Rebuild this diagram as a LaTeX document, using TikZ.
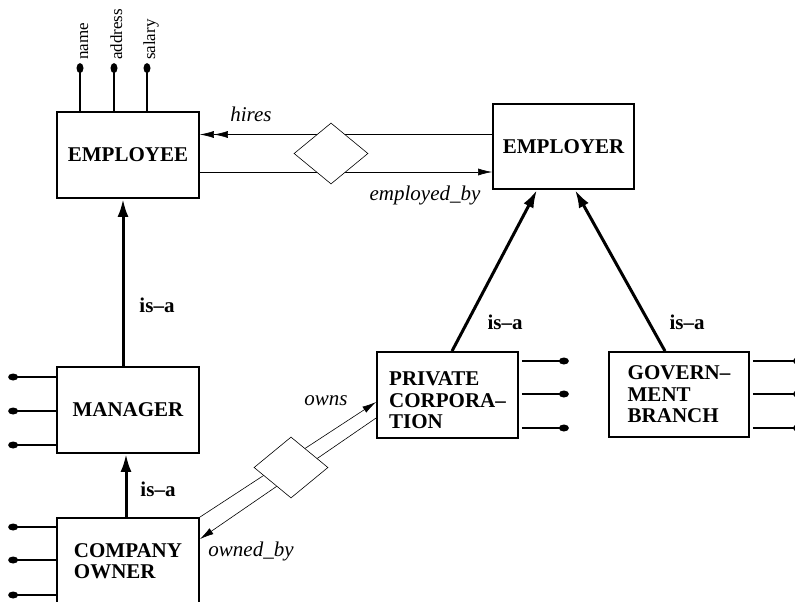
\documentclass[tikz,border=0pt]{standalone}
\usepackage{fontspec}
\setmainfont{Liberation Serif}
\usetikzlibrary{arrows.meta,shapes.geometric}
\begin{document}
\begin{tikzpicture}[x=1pt,y=-1pt,
 ent/.style={draw,line width=1.8pt,minimum width=142pt,minimum height=86pt,inner sep=0pt,align=left,font=\fontsize{21}{21.5}\selectfont\bfseries},
 rel/.style={diamond,draw,line width=0.6pt,fill=white,minimum width=74pt,minimum height=61pt,inner sep=0pt},
 conn/.style={line width=0.6pt,-{Latex[length=14pt,width=7pt]}},
 dconn/.style={line width=0.6pt,-{Latex[length=14pt,width=7pt]Latex[length=14pt,width=7pt]}},
 isa/.style={line width=3pt,-{Latex[length=18pt,width=11pt]}},
 lbl/.style={font=\fontsize{21}{24}\selectfont\itshape,inner sep=0pt},
 isalbl/.style={font=\fontsize{21}{24}\selectfont\bfseries,inner sep=0pt},
 stub/.style={line width=1.8pt},
 vdot/.style={ellipse,fill,minimum width=7pt,minimum height=10pt,inner sep=0pt},
 hdot/.style={ellipse,fill,minimum width=10pt,minimum height=7pt,inner sep=0pt},
 attr/.style={font=\fontsize{17}{20}\selectfont,rotate=90,anchor=base west,inner sep=0pt}]
\useasboundingbox (0,0) rectangle (795,602);

% entities
\node[ent] (employee) at (128,155) {EMPLOYEE};
\node[ent,minimum width=141pt,minimum height=85pt] (employer) at (563.5,146.5) {EMPLOYER};
\node[ent] (manager) at (128,410) {MANAGER};
\node[ent] (owner) at (128,561) {COMPANY\\OWNER};
\node[ent,minimum width=141pt] (private) at (447.5,395) {\rule{0pt}{25pt}PRIVATE\\CORPORA--\\TION};
\node[ent,minimum width=140pt,minimum height=85pt] (govt) at (679,394.5) {GOVERN--\\MENT\\BRANCH};

% attributes of EMPLOYEE
\draw[stub] ([xshift=-48pt]employee.north) -- ++(0,-43) node[vdot] (d1) {};
\draw[stub] ([xshift=-14pt]employee.north) -- ++(0,-43) node[vdot] (d2) {};
\draw[stub] ([xshift=19pt]employee.north) -- ++(0,-43) node[vdot] (d3) {};
\node[attr] (aname) at ([xshift=8pt,yshift=8pt]d1.center) {name};
\node[attr] (aaddr) at ([xshift=8pt,yshift=8pt]d2.center) {address};
\node[attr] (asal) at ([xshift=8pt,yshift=8pt]d3.center) {salary};

% other attribute stubs
\foreach \s in {33,-1,-35} \draw[stub] ([yshift=\s pt]manager.west) -- ++(-43,0) node[hdot] {};
\foreach \s in {34,1,-34} \draw[stub] ([yshift=\s pt]owner.west) -- ++(-43,0) node[hdot] {};
\foreach \s in {34,1,-33} \draw[stub] ([xshift=3pt,yshift=\s pt]private.east) -- ++(42,0) node[hdot] {};
\foreach \s in {33.5,0.5,-33.5} \draw[stub] ([xshift=3pt,yshift=\s pt]govt.east) -- ++(45,0) node[hdot] {};

% hires / employed_by
\draw[dconn] ([yshift=12pt]employer.west) -- ([yshift=20.5pt]employee.east);
\draw[conn] ([yshift=-17pt]employee.east) -- ([yshift=-25.5pt]employer.west);
\node[rel] (works) at (331,153.5) {};
\node[lbl] (hires) at (251,114) {hires};
\node[lbl] (empby) at (425,195) {employed\_by};

% owns / owned_by
\draw[conn] (owner.north east) -- ([yshift=-7pt]private.west);
\draw[conn] ([yshift=-23pt]private.west) -- ([yshift=-22pt]owner.north east);
\node[rel] (ownrel) at (291,467.5) {};
\node[lbl] (owns) at (326,401) {owns};
\node[lbl] (ownedby) at (251,551) {owned\_by};

% is-a
\draw[isa] ([xshift=-5pt]manager.north) -- ([xshift=-5pt]employee.south);
\draw[isa] ([xshift=-2pt]owner.north) -- ([xshift=-2pt]manager.south);
\draw[isa] ([xshift=4.5pt]private.north) -- ([xshift=-26.5pt]employer.south);
\draw[isa] ([xshift=-14pt]govt.north) -- ([xshift=11.5pt]employer.south);
\node[isalbl] (isa1) at (157,305) {is--a};
\node[isalbl] (isa2) at (158,489) {is--a};
\node[isalbl] (isa3) at (505,322) {is--a};
\node[isalbl] (isa4) at (687,322) {is--a};
\end{tikzpicture}
\end{document}
